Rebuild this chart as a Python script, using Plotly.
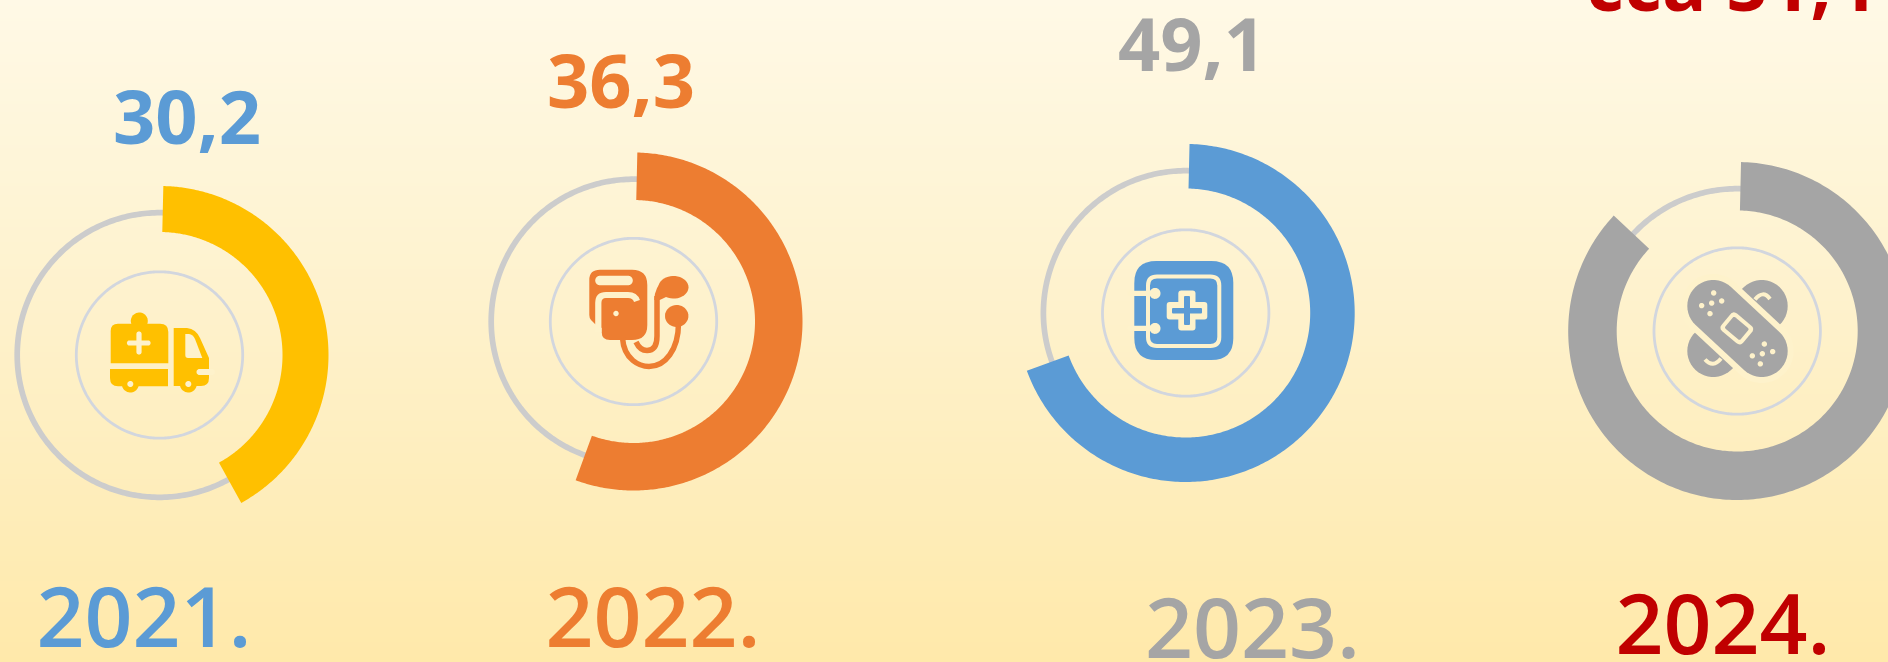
import numpy as np
import plotly.graph_objects as go

# ---------- data ----------
years = ["2021.", "2022.", "2023.", "2024."]
value_labels = ["30,2", "36,3", "49,1", "cca 51,4"]
arc_shares = [0.416, 0.552, 0.691, 0.866]   # share of the full circle each band covers

# ---------- layout of the graphic (pixels) ----------
W, H = 1888, 662
centers_x = [159.5, 633.5, 1185.7, 1737.2]
centers_y = [355, 321.5, 313, 331]
outer_r = [169, 169, 169, 169]
inner_r = [123, 121.5, 124.5, 120.5]
ring_r = 142.3
circle_r = 83.2
start_deg = 1.3

band_colors = ["#FFC000", "#ED7D31", "#5B9BD5", "#A5A5A5"]
text_colors = ["#5B9BD5", "#ED7D31", "#A5A5A5", "#C00000"]
value_x = [187, 621, 1192, 1730]
value_y = [125.6, 89.6, 52.8, -7.2]
year_x = [144, 653, 1252.5, 1723]
year_y = [626, 625.5, 636.5, 633]
RING = "#CCCCCC"
CIRCLE = "#D2D6DE"
BG = "#FEF2CB"

bg_y = [0, 165, 330, 500, 662]
bg_stops = ["#FFF9E6", "#FEF5D8", "#FEF1CA", "#FEEDBA", "#FFE9AA"]

fig = go.Figure()

# gradient background
fig.add_trace(go.Heatmap(
    x=[0, W], y=bg_y, z=[[v, v] for v in bg_y],
    colorscale=[[v / 662, c] for v, c in zip(bg_y, bg_stops)],
    zmin=0, zmax=662, zsmooth="best", showscale=False, hoverinfo="skip"))


def polar(cx, cy, r, deg):
    a = np.radians(deg)
    return cx + r * np.sin(a), cy - r * np.cos(a)


shapes = []

for cx, cy, ro, ri, share, col in zip(centers_x, centers_y, outer_r, inner_r, arc_shares, band_colors):
    # thin ring + inner circle
    t = np.linspace(0, 360, 361)
    xs, ys = polar(cx, cy, ring_r, t)
    fig.add_trace(go.Scatter(x=xs, y=ys, mode="lines", line=dict(color=RING, width=5.7, simplify=False), hoverinfo="skip"))
    xs, ys = polar(cx, cy, circle_r, t)
    fig.add_trace(go.Scatter(x=xs, y=ys, mode="lines", line=dict(color=CIRCLE, width=2.8, simplify=False), hoverinfo="skip"))
    # value band
    t = np.linspace(start_deg, start_deg + share * 360, 300)
    xo, yo = polar(cx, cy, ro, t)
    xi, yi = polar(cx, cy, ri, t[::-1])
    fig.add_trace(go.Scatter(x=np.r_[xo, xi, xo[0]], y=np.r_[yo, yi, yo[0]], mode="lines", fill="toself",
                             fillcolor=col, line=dict(color=col, width=0, simplify=False), hoverinfo="skip"))


# ---------- icon helpers ----------
def fill(path, color):
    shapes.append(dict(type="path", xref="x", yref="y", path=path, fillcolor=color,
                       line=dict(width=0), layer="above"))


def stroke(path, color, width):
    shapes.append(dict(type="path", xref="x", yref="y", path=path, fillcolor="rgba(0,0,0,0)",
                       line=dict(color=color, width=width), layer="above"))


def rr(x0, y0, x1, y1, r):
    return (f"M{x0 + r},{y0} L{x1 - r},{y0} Q{x1},{y0} {x1},{y0 + r} L{x1},{y1 - r} Q{x1},{y1} {x1 - r},{y1} "
            f"L{x0 + r},{y1} Q{x0},{y1} {x0},{y1 - r} L{x0},{y0 + r} Q{x0},{y0} {x0 + r},{y0} Z")


def poly(pts):
    return "M" + " L".join(f"{x:.2f},{y:.2f}" for x, y in pts) + " Z"


def disc(cx, cy, rx, ry=None):
    ry = rx if ry is None else ry
    a = np.linspace(0, 2 * np.pi, 40)[:-1]
    return poly(zip(cx + rx * np.cos(a), cy + ry * np.sin(a)))


def capsule(x0, y0, x1, y1, r):
    base = np.arctan2(y1 - y0, x1 - x0)
    a = np.linspace(-np.pi / 2, np.pi / 2, 24)
    p = list(zip(x1 + r * np.cos(base + a), y1 + r * np.sin(base + a)))
    p += list(zip(x0 + r * np.cos(base + np.pi + a), y0 + r * np.sin(base + np.pi + a)))
    return poly(p)


def diamond(cx, cy, half_u, half_v, ang, r):
    """Rounded rectangle rotated by ang degrees."""
    c, s = np.cos(np.radians(ang)), np.sin(np.radians(ang))
    corners = [(-half_u, -half_v), (half_u, -half_v), (half_u, half_v), (-half_u, half_v)]
    pts = []
    for i, (u, v) in enumerate(corners):
        pu, pv = corners[i - 1]
        nu, nv = corners[(i + 1) % 4]
        d0 = np.hypot(pu - u, pv - v)
        d1 = np.hypot(nu - u, nv - v)
        for w in np.linspace(0, 1, 7):
            au, av = u + (pu - u) * r / d0, v + (pv - v) * r / d0
            bu, bv = u + (nu - u) * r / d1, v + (nv - v) * r / d1
            qu = (1 - w) ** 2 * au + 2 * w * (1 - w) * u + w * w * bu
            qv = (1 - w) ** 2 * av + 2 * w * (1 - w) * v + w * w * bv
            pts.append((cx + qu * c - qv * s, cy + qu * s + qv * c))
    return poly(pts)


# ---------- icon 1: ambulance ----------
c = band_colors[0]
fill(disc(139.3, 321, 8.5), c)
fill("M110.7,363.3 L110.7,331 Q110.7,323.7 118,323.7 L160,323.7 Q168.3,323.7 168.3,332 L168.3,363.3 Z", c)
fill(capsule(129.5, 343, 148, 343, 2.6), BG)
fill(capsule(139, 334, 139, 352, 2.6), BG)
fill("M110,369 L168,369 L168,386.3 L118,386.3 Q110,386.3 110,378 Z", c)
fill(disc(130.3, 384, 8.5), c)
fill(disc(130.3, 384, 3), BG)
fill("M173.7,328 L187,328 Q196,329 200,338 L209,358 L209,378 Q209,386 201,386 L173.7,386 Z", c)
fill("M185.3,334 L189,334 Q193,334.5 195,339 L202.3,358 L188,358 Q185.3,358 185.3,355 Z", BG)
fill(capsule(199.5, 372, 212, 372, 3), BG)
fill(disc(188.3, 384, 8.5), c)
fill(disc(188.3, 384, 3), BG)

# ---------- icon 2: blood-pressure cuff ----------
c = band_colors[1]
fill("M589.3,280 Q589.3,269.8 600,269.8 L632,269.8 Q647.3,269.8 647.3,285 L647.3,325 "
     "Q647.3,340 632,340 L610,340 Q601.7,340 601.7,332 L601.7,328 L595,324 L591,320 Q589.3,318 589.3,315 Z", c)
fill(capsule(600, 280.5, 628, 280.5, 4.8), BG)
stroke("M598.3,332 L598.3,303 Q598.3,295 606,295 L628,295 Q635,295 637,301", BG, 6.2)
fill(disc(616, 313.5, 2.7), BG)
stroke("M636,342 Q640,350.5 647,350.5 Q657,350.5 657,336 L657,296", c, 5.5)
fill("M654.3,300 Q654.5,287 664,279.5 Q668,276.5 674,276.5 L680,290 L664,298 L659.7,300 Z", c)
fill(disc(673.5, 287.3, 15, 11.3), c)
stroke("M622.5,338 C624,360 640,366.5 649,366.5 C665,366.5 678.5,350 678.5,323", c, 5.5)
fill(disc(676.7, 316, 11.7, 11), c)

# ---------- icon 3: medical notebook ----------
c = band_colors[2]
fill(rr(1134.3, 261, 1233.3, 360, 22), c)
stroke(rr(1148, 276.5, 1219.3, 346, 9), BG, 4)
fill(capsule(1130, 293.4, 1150, 293.4, 2.7), BG)
fill(capsule(1130, 328.4, 1150, 328.4, 2.7), BG)
fill(disc(1155, 293.4, 5.5), BG)
fill(disc(1155, 328.4, 5.5), BG)
fill(rr(1147, 286, 1150, 301, 0.5), BG)
fill(rr(1147, 321, 1150, 336, 0.5), BG)
# cross: light outline and blue centre
fill(rr(1166.7, 302, 1207.3, 319.5, 3), BG)
fill(rr(1178.3, 290.4, 1195.5, 330.5, 3), BG)
fill(rr(1172, 308, 1202, 313.5, 1), c)
fill(rr(1184, 296, 1190, 325, 1), c)

# ---------- icon 4: crossed bandages ----------
c = band_colors[3]
fill(capsule(1761.7, 306, 1713.3, 351, 26), c)
fill(capsule(1713.3, 306, 1761.7, 351, 32), BG)
fill(capsule(1713.3, 306, 1761.7, 351, 26), c)
fill(diamond(1736.8, 328.4, 14, 11.5, 40, 5), BG)
fill(diamond(1736.8, 328.4, 10, 7.5, 40, 2), c)
for zx, zy in [(641, 694), (605, 724), (635, 718), (665, 713), (630, 743),
               (793, 815), (757, 843), (787, 838), (818, 833), (781, 862)]:
    fill(disc(1500 + zx / 3, zy / 2.369, 2.7), BG)
stroke("M1755,299.5 Q1763,289.5 1770,299", BG, 4)
stroke("M1705,359.5 Q1713,368.5 1721,358.5", BG, 4)

# ---------- texts ----------
fig.add_trace(go.Scatter(x=value_x, y=value_y, text=value_labels, mode="text",
                         textfont=dict(family="Open Sans", size=74, color=text_colors, weight=700),
                         textposition="middle center", hoverinfo="skip"))
fig.add_trace(go.Scatter(x=year_x, y=year_y, text=years, mode="text",
                         textfont=dict(family="Open Sans", size=84, color=text_colors, weight=600),
                         textposition="middle center", hoverinfo="skip"))

fig.update_layout(
    width=W, height=H, margin=dict(l=0, r=0, t=0, b=0), showlegend=False,
    paper_bgcolor="#FFF3CF", plot_bgcolor="rgba(0,0,0,0)", shapes=shapes,
    xaxis=dict(range=[0, W], visible=False, fixedrange=True),
    yaxis=dict(range=[H, 0], visible=False, fixedrange=True),
)
fig.write_html("out.html", config=dict(displayModeBar=False),
               post_script="document.body.style.margin='0';document.body.style.overflow='hidden';")
